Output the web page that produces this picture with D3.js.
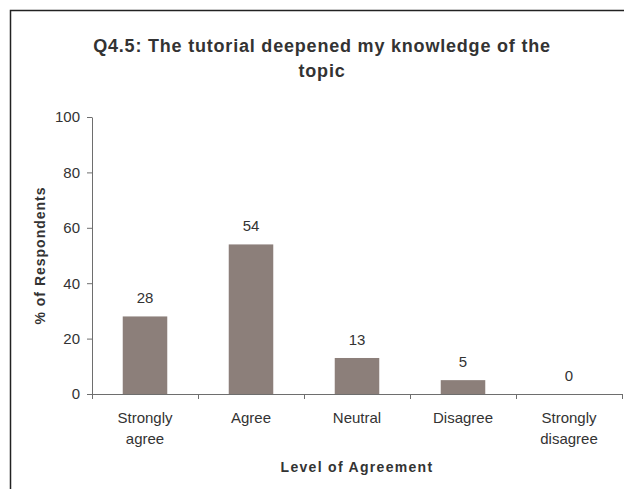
<!DOCTYPE html>
<html>
<head>
<meta charset="utf-8">
<script src="https://cdn.jsdelivr.net/npm/d3@7"></script>
<style>
  html, body { margin: 0; padding: 0; background: #fff; overflow: hidden; }
  svg { display: block; }
  text { font-family: "Liberation Sans", Arial, sans-serif; fill: #333; }
</style>
</head>
<body>
<svg id="main" width="624" height="489"></svg>
<script>
const categories = ['Strongly agree', 'Agree', 'Neutral', 'Disagree', 'Strongly disagree'];
const percents = [28, 54, 13, 5, 0];
const yTicks = [0, 20, 40, 60, 80, 100];
const titleLines = ['Q4.5: The tutorial deepened my knowledge of the', 'topic'];

const width = 624;
const height = 489;
const position = {
    left: 92,
    top: 117,
    right: 2,
    bottom: 95
};
const innerWidth = width - position.left - position.right;
const innerHeight = height - position.top - position.bottom;

const svg = d3.select('#main');

// chart frame: only its left and top edges fall inside the picture
svg.append('path')
    .attr('d', `M10.5,${height} V10.5 H${width}`)
    .attr('fill', 'none')
    .attr('stroke', '#222')
    .attr('stroke-width', 1.5);

const xScale = d3
    .scaleBand()
    .domain(categories)
    .range([position.left, position.left + innerWidth])
    .paddingInner(0.58)
    .paddingOuter(0.29);

// boundaries between categories for the tick marks
const edgeScale = d3
    .scaleLinear()
    .domain([0, categories.length])
    .range([position.left, position.left + innerWidth]);

const yScale = d3
    .scaleLinear()
    .domain([0, 100])
    .range([position.top + innerHeight, position.top]);

const yAxis = d3.axisLeft(yScale).tickValues(yTicks).tickSize(5).tickSizeOuter(0).tickPadding(7);
const xAxis = d3.axisBottom(edgeScale).tickValues(d3.range(categories.length + 1)).tickFormat('').tickSize(5).tickSizeOuter(0);

svg.append('g')
    .attr('class', 'y-axis')
    .attr('transform', `translate(${position.left}, 0)`)
    .call(yAxis)
    .call(g => g.selectAll('path, line').attr('stroke', '#6e6e6e'))
    .call(g => g.selectAll('text').attr('font-size', 15).attr('fill', '#333')
        .style('font-family', '"Liberation Sans", Arial, sans-serif'));

svg.selectAll('.bar')
    .data(percents)
    .join('rect')
    .attr('class', 'bar')
    .attr('x', (d, i) => xScale(categories[i]))
    .attr('y', d => yScale(d))
    .attr('width', xScale.bandwidth())
    .attr('height', d => yScale(0) - yScale(d))
    .attr('fill', '#8c7f7a');

svg.append('g')
    .attr('class', 'x-axis')
    .attr('transform', `translate(0, ${yScale(0)})`)
    .call(xAxis)
    .call(g => g.selectAll('path, line').attr('stroke', '#6e6e6e'));

svg.selectAll('.value-label')
    .data(percents)
    .join('text')
    .attr('class', 'value-label')
    .attr('x', (d, i) => xScale(categories[i]) + xScale.bandwidth() / 2)
    .attr('y', d => yScale(d) - 13)
    .attr('text-anchor', 'middle')
    .attr('font-size', 15)
    .text(d => d);

// category labels, wrapped onto two lines
svg.selectAll('.cat-label')
    .data(categories)
    .join('text')
    .attr('class', 'cat-label')
    .attr('text-anchor', 'middle')
    .attr('font-size', 15)
    .attr('x', d => xScale(d) + xScale.bandwidth() / 2)
    .attr('y', yScale(0) + 29)
    .each(function (d) {
        const cx = xScale(d) + xScale.bandwidth() / 2;
        d3.select(this)
            .selectAll('tspan')
            .data(d.split(' '))
            .join('tspan')
            .attr('x', cx)
            .attr('dy', (w, i) => (i === 0 ? 0 : 21))
            .text(w => w);
    });

// title
svg.append('text')
    .attr('text-anchor', 'middle')
    .attr('font-size', 18)
    .attr('font-weight', 'bold')
    .attr('letter-spacing', 0.8)
    .attr('x', 322)
    .attr('y', 52)
    .selectAll('tspan')
    .data(titleLines)
    .join('tspan')
    .attr('x', 322)
    .attr('dy', (d, i) => (i === 0 ? 0 : 25))
    .text(d => d);

svg.append('text')
    .text('% of Respondents')
    .attr('text-anchor', 'middle')
    .attr('font-size', 14)
    .attr('font-weight', 'bold')
    .attr('letter-spacing', 1)
    .attr('transform', `translate(45, ${position.top + innerHeight / 2}) rotate(-90)`);

svg.append('text')
    .text('Level of Agreement')
    .attr('text-anchor', 'middle')
    .attr('font-size', 14)
    .attr('font-weight', 'bold')
    .attr('letter-spacing', 1.3)
    .attr('x', position.left + innerWidth / 2)
    .attr('y', 472);
</script>
</body>
</html>
